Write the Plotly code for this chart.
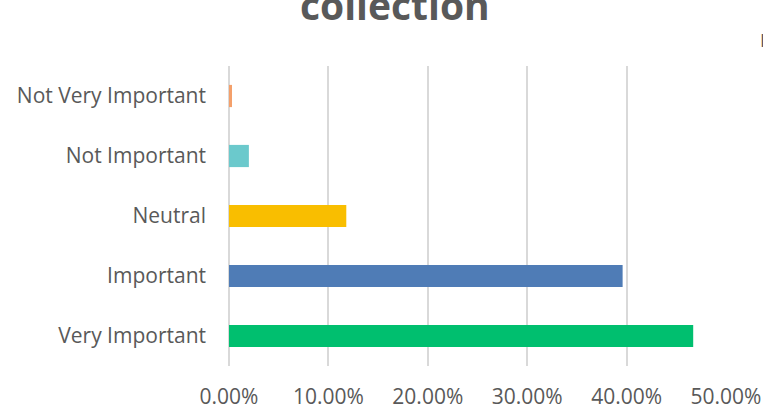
import plotly.graph_objects as go

categories = ["Very Important", "Important", "Neutral", "Not Important", "Not Very Important"]
values = [0.467, 0.396, 0.118, 0.020, 0.003]
colors = ["#00BF6F", "#4F7CB6", "#F9BE00", "#6BC9CC", "#F4A06B"]
tick_vals = [0, 0.1, 0.2, 0.3, 0.4, 0.5]
tick_text = ["0.00%", "10.00%", "20.00%", "30.00%", "40.00%", "50.00%"]

FONT = "Open Sans, sans-serif"
L, R, T, B = 229, 37, 66, 42
PW, PH = 763 - L - R, 408 - T - B

fig = go.Figure(go.Bar(
    y=categories, x=values, orientation="h",
    marker=dict(color=colors, line=dict(width=0)),
    width=0.37,
))

fig.update_layout(
    width=763, height=408,
    margin=dict(l=L, r=R, t=T, b=B),
    paper_bgcolor="white", plot_bgcolor="white",
    showlegend=False,
    font=dict(family=FONT, color="#595959", size=21),
    xaxis=dict(range=[0, 0.5], tickvals=tick_vals, ticktext=tick_text,
               showgrid=True, gridcolor="#D9D9D9", gridwidth=1.5,
               zeroline=True, zerolinecolor="#D9D9D9", zerolinewidth=1.5,
               showline=False, ticks="", fixedrange=True,
               automargin=False, ticklabelstandoff=16,
               tickfont=dict(size=21, color="#595959", family=FONT)),
    yaxis=dict(categoryorder="array", categoryarray=categories,
               showgrid=False, zeroline=False, showline=False, ticks="",
               automargin=False, ticklabelstandoff=22, fixedrange=True,
               tickfont=dict(size=21, color="#595959", family=FONT)),
    annotations=[
        dict(text="<b>collection</b>", xref="paper", yref="paper",
             x=(395 - L) / PW, y=1 + (T - 4) / PH,
             xanchor="center", yanchor="middle", showarrow=False,
             font=dict(size=39, color="#595959", family=FONT)),
        dict(text="I", xref="paper", yref="paper",
             x=(758 - L) / PW, y=1 + (T - 40) / PH,
             xanchor="left", yanchor="middle", showarrow=False,
             font=dict(size=18, color="#595959", family=FONT)),
    ],
)

fig.write_html("out.html", config={"displayModeBar": False},
               post_script="document.body.style.margin='0';")
